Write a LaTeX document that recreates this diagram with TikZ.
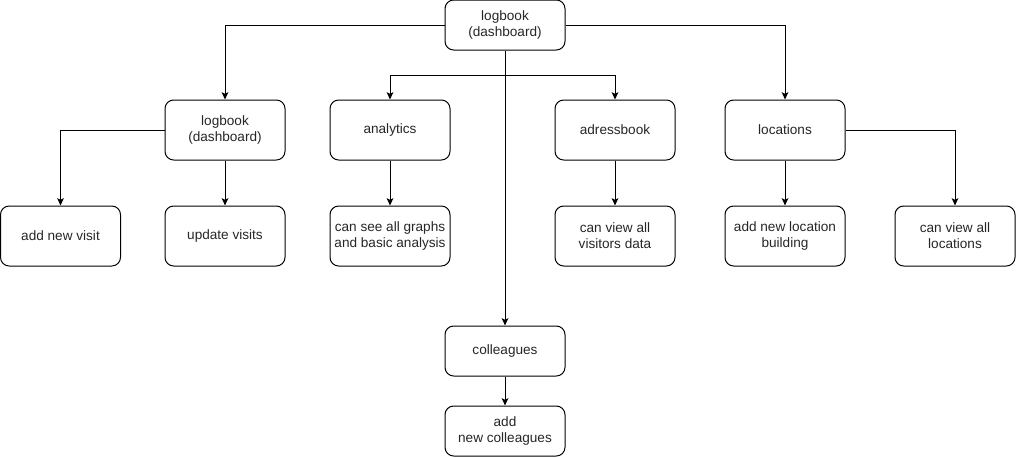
\documentclass[tikz,border=0pt]{standalone}
\usepackage{fontspec}
\setmainfont{Liberation Sans}
\usetikzlibrary{arrows.meta}
\begin{document}
\begin{tikzpicture}[x=0.75pt,y=-0.75pt,
  box/.style={draw, line width=0.75pt, rounded corners=6.5pt, minimum width=90pt, minimum height=45pt, inner sep=0pt, align=center, font=\fontsize{10.2}{12.2}\selectfont, text=black!85},
  sbox/.style={box, minimum height=37.5pt},
  arr/.style={draw, line width=0.75pt, -{Stealth[length=5.5pt,width=5pt,inset=1.2pt]}}]
\useasboundingbox (0,0) rectangle (1016,457);
\node[sbox] (top) at (505,25) {logbook\\(dashboard)};
\node[box] (lb) at (225,130) {logbook\\(dashboard)};
\node[box] (an) at (390,130) {analytics};
\node[box] (ad) at (615,130) {adressbook};
\node[box] (lo) at (785,130) {locations};
\node[box] (v1) at (60.5,236) {add new visit};
\node[box] (v2) at (225,236) {update visits};
\node[box] (g) at (390,236) {can see all graphs\\and basic analysis};
\node[box] (vd) at (615,236) {can view all\\visitors data};
\node[box] (nl) at (785,236) {add new location\\building};
\node[box] (cl) at (955,236) {can view all\\locations};
\node[sbox] (co) at (505,351) {colleagues};
\node[sbox] (nc) at (505,431) {add\\new colleagues};
\coordinate (br) at (505,75);
\draw[arr] (top.west) -| (lb.north);
\draw[arr] (top.east) -| (lo.north);
\draw[arr] (top.south) -- (co.north);
\draw[arr] (br) -| (an.north);
\draw[arr] (br) -| (ad.north);
\draw[arr] (lb.west) -| (v1.north);
\draw[arr] (lb.south) -- (v2.north);
\draw[arr] (an.south) -- (g.north);
\draw[arr] (ad.south) -- (vd.north);
\draw[arr] (lo.south) -- (nl.north);
\draw[arr] (lo.east) -| (cl.north);
\draw[arr] (co.south) -- (nc.north);
\end{tikzpicture}
\end{document}
